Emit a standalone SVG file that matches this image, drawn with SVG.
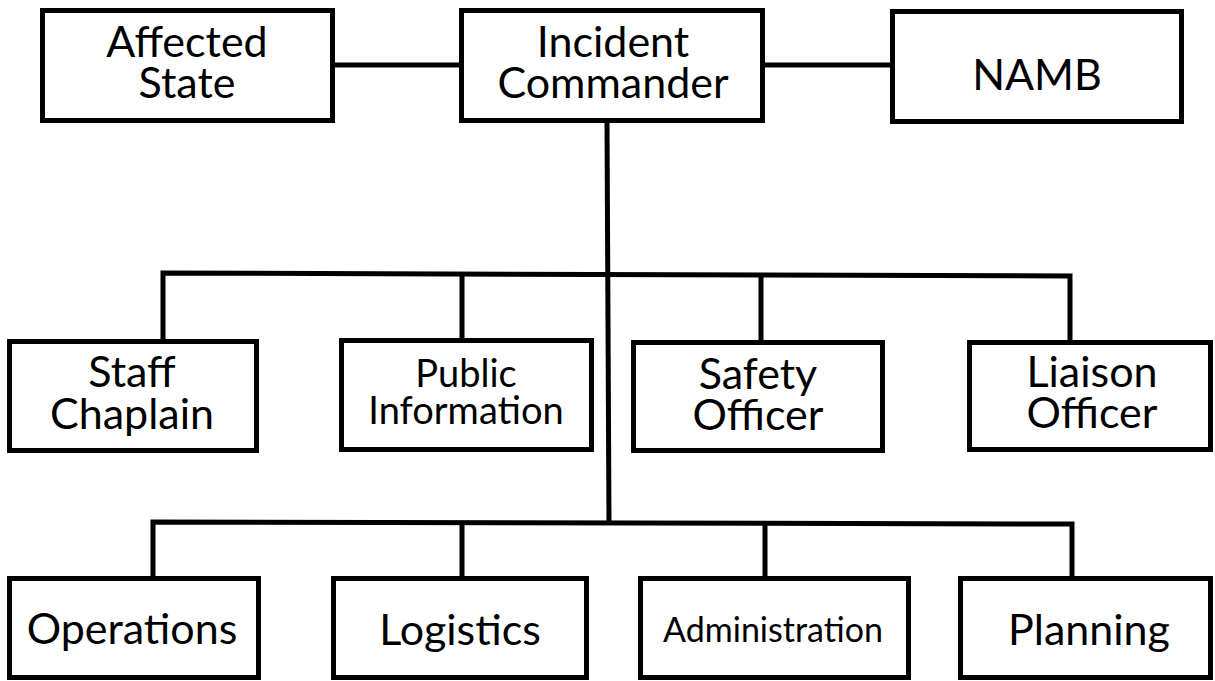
<svg xmlns="http://www.w3.org/2000/svg" width="1215" height="681" viewBox="0 0 1215 681">
<style>
.box{fill:#fff;stroke:#000;stroke-width:5}
.ln{stroke:#000;stroke-width:5;fill:none}
text{font-family:Lato,"Open Sans","Liberation Sans",sans-serif;fill:#000;text-anchor:middle}
.b{font-size:43px}
.m{font-size:38px}
.s{font-size:34px}
</style>
<rect width="1215" height="681" fill="#fff"/>
<g id="connectors">
<line class="ln" x1="335" y1="65" x2="461" y2="65"/>
<line class="ln" x1="763" y1="65" x2="892" y2="65"/>
<line class="ln" x1="607" y1="122" x2="609" y2="524"/>
<polyline class="ln" points="163,339 163,273 1070,276 1070,340"/>
<line class="ln" x1="462" y1="273" x2="462" y2="338"/>
<line class="ln" x1="761" y1="275" x2="761" y2="340"/>
<polyline class="ln" points="153,577 153,522 1072,524 1072,577"/>
<line class="ln" x1="462" y1="522" x2="462" y2="577"/>
<line class="ln" x1="765" y1="523" x2="765" y2="577"/>
</g>
<g id="affected-state"><rect class="box" x="42.5" y="10.5" width="290" height="110"/><text class="b" x="187" y="57">Affected<tspan x="187" dy="41">State</tspan></text></g>
<g id="incident-commander"><rect class="box" x="461.5" y="10.5" width="301" height="110"/><text class="b" x="613" y="57">Incident<tspan x="613" dy="41">Commander</tspan></text></g>
<g id="namb"><rect class="box" x="892.5" y="11.5" width="289" height="110"/><text class="b" x="1037" y="90">NAMB</text></g>
<g id="staff-chaplain"><rect class="box" x="9.5" y="341.5" width="247" height="109"/><text class="b" x="132" y="387">Staff<tspan x="132" dy="42">Chaplain</tspan></text></g>
<g id="public-information"><rect class="box" x="341.5" y="340.5" width="250" height="109"/><text class="m" x="466" y="387">Public<tspan x="466" dy="37">Information</tspan></text></g>
<g id="safety-officer"><rect class="box" x="633.5" y="342.5" width="249" height="108"/><text class="b" x="758" y="389">Safety<tspan x="758" dy="41">Officer</tspan></text></g>
<g id="liaison-officer"><rect class="box" x="969.5" y="342.5" width="241" height="107"/><text class="b" x="1092" y="387">Liaison<tspan x="1092" dy="41">Officer</tspan></text></g>
<g id="operations"><rect class="box" x="9.5" y="578.5" width="249" height="99"/><text class="b" x="132" y="644">Operations</text></g>
<g id="logistics"><rect class="box" x="333.5" y="578.5" width="253" height="99"/><text class="b" x="460" y="645">Logistics</text></g>
<g id="administration"><rect class="box" x="640.5" y="578.5" width="268" height="99"/><text class="s" x="773" y="642">Administration</text></g>
<g id="planning"><rect class="box" x="960.5" y="578.5" width="250" height="99"/><text class="b" x="1089" y="645">Planning</text></g>
</svg>
